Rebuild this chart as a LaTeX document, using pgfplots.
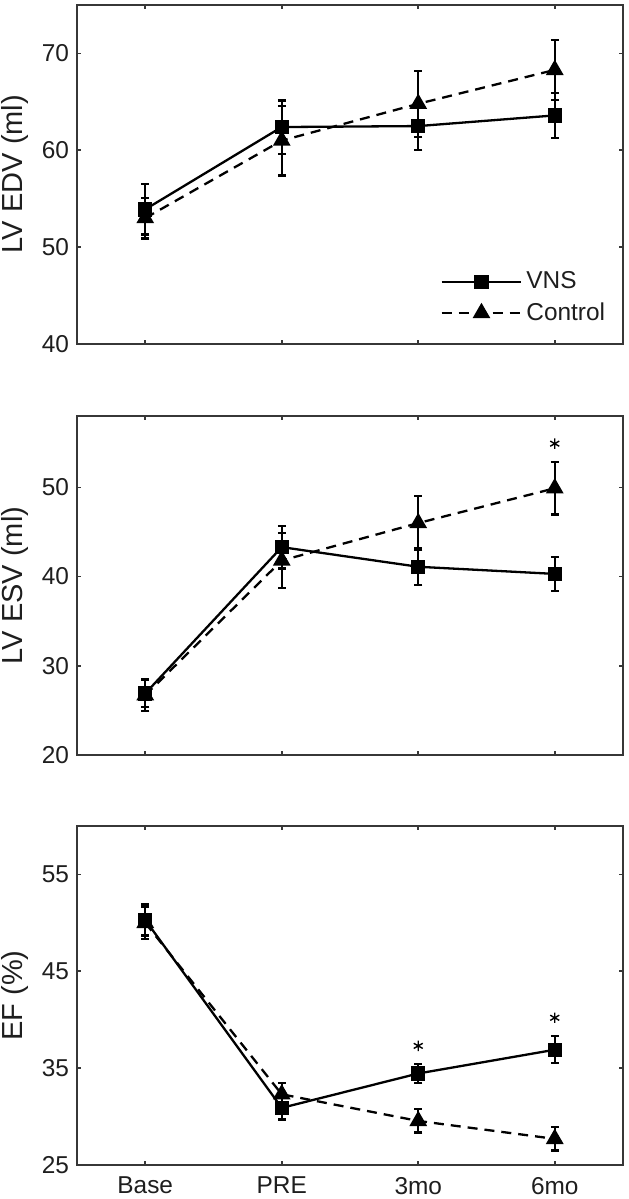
\documentclass[border=0pt]{standalone}
\usepackage{fontspec}
\setmainfont{Liberation Sans}
\usepackage{pgfplots}
\pgfplotsset{compat=1.18}
\usepackage{pgfplotstable}
\definecolor{axgray}{RGB}{55,55,55}
\definecolor{txtgray}{RGB}{30,30,30}

\pgfplotstableread{
x v ve c ce
1 53.9 2.6 53.0 2.1
2 62.4 2.75 61.0 3.6
3 62.5 2.5 64.8 3.4
4 63.6 2.3 68.3 3.1
}\tA
\pgfplotstableread{
x v ve c ce
1 26.9 1.5 26.7 1.8
2 43.3 2.4 41.8 3.1
3 41.1 2.05 46.0 3.0
4 40.3 1.9 49.9 2.95
}\tB
\pgfplotstableread{
x v ve c ce
1 50.3 1.6 50.0 1.65
2 30.9 1.2 32.3 1.2
3 34.45 1.0 29.55 1.2
4 36.9 1.4 27.7 1.2
}\tC
\pgfplotstableread{
x y
4 54.9
}\sB
\pgfplotstableread{
x y
3 37.3
4 40.2
}\sC

\pgfplotsset{
  panel/.style={
    width=273pt, height=169.5pt, scale only axis,
    xmin=0.5, xmax=4.5, xtick={1,2,3,4}, xticklabels={},
    tick align=inside, major tick length=2.2pt,
    axis line style={axgray, line width=1pt},
    tick style={axgray, line width=0.8pt},
    /pgf/number format/assume math mode=true,
    ticklabel style={font=\fontsize{12.2}{14}\selectfont, text=txtgray},
    yticklabel style={xshift=-0.5pt},
    every axis y label/.style={at={(axis description cs:0,0.5)}, xshift=-31pt, rotate=90, anchor=center,
      font=\fontsize{14.5}{17}\selectfont, text=txtgray},
    clip=false,
  },
  vns/.style={black, line width=1.15pt, solid, mark=square*, mark size=3pt, mark options={solid}},
  ctl/.style={black, line width=1.15pt, dash pattern=on 5pt off 3.5pt, mark=triangle*, mark size=4pt, mark options={solid}},
  eb/.style={error bars/.cd, y dir=both, y explicit,
    error bar style={line width=1.1pt, solid},
    error mark options={rotate=90, line width=1.1pt, mark size=2pt, solid}},
  star/.style={only marks, mark=asterisk, mark size=2.6pt, black, mark options={line width=0.7pt}},
}

\begin{document}
\begin{tikzpicture}
% Panel 1
\begin{axis}[panel, at={(0,0)},
  ymin=40, ymax=75, ytick={40,50,60,70},
  ylabel={LV EDV (ml)},
  legend style={at={(0.665,0.137)}, anchor=west, draw=none, fill=none,
    font=\fontsize{12.2}{14}\selectfont, text=txtgray, row sep=1.5pt,
    inner sep=0pt, cells={anchor=west}},
  legend image code/.code={\draw[mark repeat=2,mark phase=2,#1] plot coordinates {(0cm,0cm) (0.7cm,0cm) (1.4cm,0cm)};},
]
\coordinate (tl) at (rel axis cs:0,1);
\addplot[vns, eb] table[x=x, y=v, y error=ve] {\tA};
\addlegendentry{VNS}
\addplot[ctl, eb] table[x=x, y=c, y error=ce] {\tA};
\addlegendentry{Control}
\end{axis}
% Panel 2
\begin{axis}[panel, at={(0,-205.5pt)},
  ymin=20, ymax=58, ytick={20,30,40,50},
  ylabel={LV ESV (ml)},
]
\addplot[vns, eb] table[x=x, y=v, y error=ve] {\tB};
\addplot[ctl, eb] table[x=x, y=c, y error=ce] {\tB};
\addplot[star] table[x=x, y=y] {\sB};
\end{axis}
% Panel 3
\begin{axis}[panel, at={(0,-410.5pt)},
  ymin=25, ymax=60, ytick={25,35,45,55},
  ylabel={EF (\%)},
  xticklabels={Base,PRE,3mo,6mo},
  xticklabel style={yshift=-2.5pt},
]
\coordinate (br) at (rel axis cs:1,0);
\addplot[vns, eb] table[x=x, y=v, y error=ve] {\tC};
\addplot[ctl, eb] table[x=x, y=c, y error=ce] {\tC};
\addplot[star] table[x=x, y=y] {\sC};
\end{axis}
\pgfresetboundingbox
\path[use as bounding box] ([xshift=-38.5pt,yshift=2.5pt]tl) rectangle ([xshift=3pt,yshift=-17pt]br);
\end{tikzpicture}
\end{document}
